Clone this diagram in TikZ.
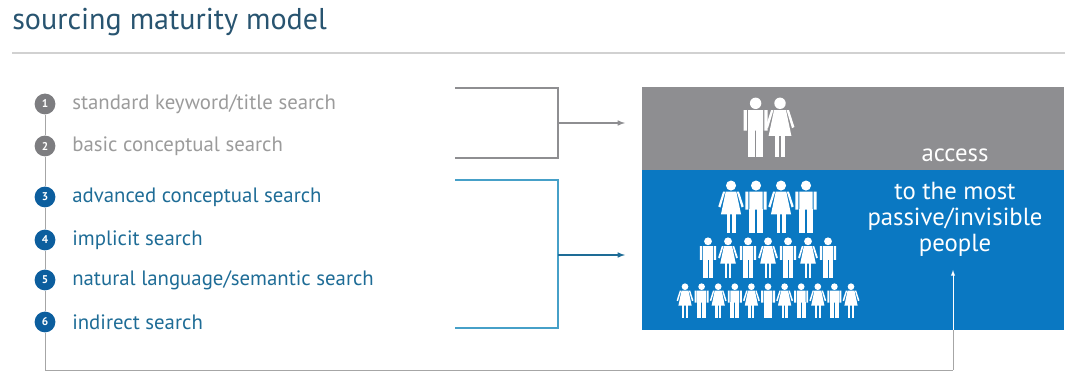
\documentclass[tikz,border=0pt]{standalone}
\usepackage{fontspec}
\setmainfont{PT Sans}
\usepackage{xcolor}
\usepackage{tikz}
\usetikzlibrary{positioning}

\definecolor{titleblue}{RGB}{40,84,112}
\definecolor{boxgray}{RGB}{142,142,145}
\definecolor{boxblue}{RGB}{10,120,194}
\definecolor{itemgray}{RGB}{155,155,155}
\definecolor{dotgray}{RGB}{125,125,128}
\definecolor{itemblue}{RGB}{30,108,150}
\definecolor{dotblue}{RGB}{12,94,158}
\definecolor{linkblue}{RGB}{70,160,200}

\begin{document}
\begin{tikzpicture}[>=latex,
  stepnode/.style={circle, fill=#1, text=white, inner sep=0pt, minimum size=0.52cm, font=\fontsize{8}{9}\selectfont\bfseries},
  itemtext/.style={anchor=west, inner sep=0pt, text=#1, font=\fontsize{14.8}{17}\selectfont},
  boxtext/.style={text=white, inner sep=0pt, align=center, font=\fontsize{17.6}{18.5}\selectfont},
  manfig/.pic={
    \fill (0,0.895) circle (0.095);
    \fill[rounded corners=0.03] (-0.2,0.44) rectangle (-0.145,0.78);
    \fill[rounded corners=0.03] (0.145,0.44) rectangle (0.2,0.78);
    \fill[rounded corners=0.02] (-0.125,0.44) rectangle (0.125,0.78);
    \fill (-0.125,0) rectangle (-0.012,0.46);
    \fill (0.012,0) rectangle (0.125,0.46);
  },
  womanfig/.pic={
    \fill (0,0.895) circle (0.095);
    \fill (-0.11,0.78) -- (-0.15,0.78) -- (-0.24,0.5) -- (-0.2,0.48) -- cycle;
    \fill (0.11,0.78) -- (0.15,0.78) -- (0.24,0.5) -- (0.2,0.48) -- cycle;
    \fill (-0.1,0.78) -- (0.1,0.78) -- (0.19,0.35) -- (-0.19,0.35) -- cycle;
    \fill (-0.085,0) rectangle (-0.02,0.37);
    \fill (0.02,0) rectangle (0.085,0.37);
  }]
\useasboundingbox (0,0) rectangle (26.625,9.275);

% title
\node[anchor=west, inner sep=0pt, text=titleblue, font=\fontsize{21.4}{24}\selectfont] at (0.3, 8.72) (title) {sourcing maturity model};
\draw[black!18, thick] (0.3, 7.95) -- (26.625, 7.95);

% steps
\node[stepnode=dotgray] at (1.125, 6.675) (s1) {1};
\node[stepnode=dotgray] at (1.125, 5.625) (s2) {2};
\node[stepnode=dotblue] at (1.125, 4.35) (s3) {3};
\node[stepnode=dotblue] at (1.125, 3.275) (s4) {4};
\node[stepnode=dotblue] at (1.125, 2.275) (s5) {5};
\node[stepnode=dotblue] at (1.125, 1.225) (s6) {6};
\node[itemtext=itemgray] at (1.8, 6.675) (t1) {standard keyword/title search};
\node[itemtext=itemgray] at (1.8, 5.625) (t2) {basic conceptual search};
\node[itemtext=itemblue] at (1.8, 4.35) (t3) {advanced conceptual search};
\node[itemtext=itemblue] at (1.8, 3.275) (t4) {implicit search};
\node[itemtext=itemblue] at (1.8, 2.275) (t5) {natural language/semantic search};
\node[itemtext=itemblue] at (1.8, 1.225) (t6) {indirect search};
\draw[black!35] (s1) -- (s2);
\draw[black!35] (s2) -- (s3);
\draw[black!35] (s3) -- (s4);
\draw[black!35] (s4) -- (s5);
\draw[black!35] (s5) -- (s6);

% boxes
\fill[boxgray] (16.05, 5.025) rectangle (26.6, 7.1);
\fill[boxblue] (16.05, 1.025) rectangle (26.6, 5.025);
\node[boxtext] at (23.875, 5.4) (access) {access};
\node[boxtext] at (23.875, 3.78) (most) {to the most\\passive/invisible\\people};

% brackets
\coordinate (g1) at (11.375, 7.075);
\coordinate (g2) at (11.375, 5.325);
\coordinate (gv) at (13.95, 6.2);
\coordinate (ga) at (15.625, 6.2);
\draw[boxgray, thick] (g1) -| (gv) |- (g2);
\draw[boxgray, thick, ->] (gv) -- (ga);
\coordinate (b1) at (11.375, 4.775);
\coordinate (b2) at (11.375, 1.075);
\coordinate (bv) at (13.95, 2.9);
\coordinate (ba) at (15.625, 2.9);
\draw[linkblue, thick] (b1) -| (bv) |- (b2);
\draw[itemblue, thick, ->] (bv) -- (ba);

% bottom return line
\coordinate (bl) at (1.125, 0.03);
\coordinate (br) at (23.825, 0.03);
\coordinate (bb) at (23.825, 1.025);
\coordinate (up) at (23.825, 2.525);
\draw[black!35] (s6) -- (bl) -- (br);
\draw[black!35] (br) -- (bb);
\draw[white, ->] (bb) -- (up);

% people
\begin{scope}[white]
\pic[scale=1.5] at (18.89, 5.35) {manfig};
\pic[scale=1.5] at (19.5, 5.35) {womanfig};
\foreach \i/\p in {0/womanfig, 1/manfig, 2/womanfig, 3/manfig}
  \pic[scale=1.325] at (18.275+0.625*\i, 3.45) {\p};
\foreach \i/\p in {0/manfig, 1/womanfig, 2/manfig, 3/womanfig, 4/manfig, 5/womanfig, 6/manfig}
  \pic[scale=1.025] at (17.7+0.5*\i, 2.325) {\p};
\foreach \i/\p in {0/womanfig, 1/manfig, 2/womanfig, 3/manfig, 4/womanfig, 5/manfig, 6/womanfig, 7/manfig, 8/womanfig, 9/manfig, 10/womanfig}
  \pic[scale=0.875] at (17.125+0.415*\i, 1.325) {\p};
\end{scope}

\end{tikzpicture}
\end{document}
